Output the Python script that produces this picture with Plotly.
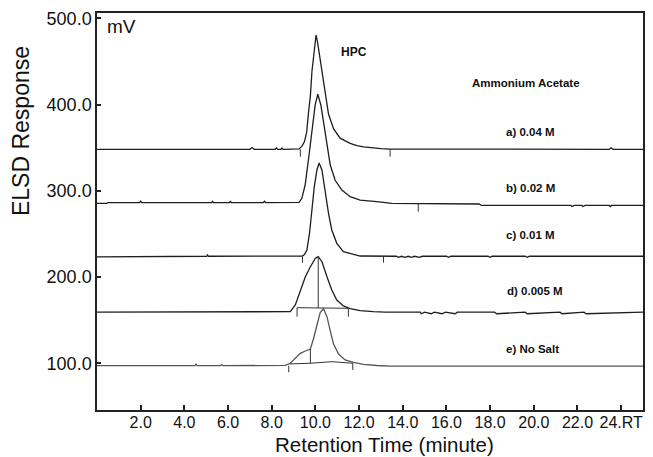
import plotly.graph_objects as go

# retention time (min) / ELSD response (mV), offset chromatograms
TIME_A = [0, 7.0, 7.1, 7.2, 8.15, 8.21, 8.27, 8.42, 8.47, 8.52, 9.25, 9.38, 9.50, 9.60, 9.69,
          9.77, 9.84, 9.91, 9.96, 10.03, 10.10, 10.20, 10.30, 10.45, 10.60, 10.83, 11.13,
          11.59, 11.90, 12.20, 12.65, 13.0, 13.42, 23.45, 23.54, 23.63, 25]
MV_A = [348.1, 348.1, 350.2, 348.1, 348.1, 349.6, 348.1, 348.1, 349.6, 348.1, 348.5, 351.5,
        357.0, 368.0, 392.0, 410.0, 438.0, 456.0, 470.0, 480.6, 472.0, 455.0, 435.0, 411.0,
        389.0, 372.0, 361.0, 355.0, 352.3, 351.0, 349.5, 348.8, 348.3, 348.1, 349.8, 348.1, 348.1]

TIME_B = [0, 0.45, 0.5, 1.95, 2.0, 2.05, 5.25, 5.29, 5.33, 6.07, 6.11, 6.15, 7.62, 7.67, 7.72,
          9.25, 9.38, 9.53, 9.69, 9.84, 9.99, 10.11, 10.25, 10.37, 10.53, 10.68, 10.90, 11.21,
          11.59, 12.05, 12.81, 13.5, 17.5, 17.6, 21.7, 21.75, 21.85, 22.2, 22.25, 22.35, 23.45,
          23.5, 23.55, 25]
MV_B = [285.5, 285.5, 286.4, 286.4, 288.0, 286.4, 286.4, 287.8, 286.4, 286.4, 287.6, 286.4,
        286.4, 287.8, 286.4, 286.6, 291.3, 306.7, 337.7, 372.4, 399.5, 411.9, 399.5, 380.1,
        353.1, 329.9, 312.5, 300.9, 293.2, 289.3, 287.4, 285.5, 284.7, 283.0, 283.0, 281.8,
        283.0, 283.0, 281.8, 283.0, 283.0, 281.8, 283.0, 283.0]

TIME_C = [0, 1.75, 1.8, 5.02, 5.06, 5.10, 9.40, 9.50, 9.61, 9.73, 9.84, 9.95, 10.07, 10.17,
          10.30, 10.45, 10.60, 10.75, 10.98, 11.28, 11.74, 12.05, 13.7, 13.8, 13.95, 14.1,
          14.25, 14.4, 14.55, 14.75, 14.9, 16.0, 16.1, 16.2, 17.9, 18.0, 18.1, 19.6, 19.7,
          19.8, 25]
MV_C = [223.3, 223.3, 224.1, 224.1, 225.6, 224.1, 224.3, 226.0, 231.4, 250.7, 277.7, 304.8,
        324.1, 332.2, 324.1, 297.1, 273.9, 254.6, 239.1, 229.4, 225.9, 224.4, 224.1, 222.9,
        224.1, 222.9, 224.1, 222.9, 224.1, 222.9, 224.1, 224.1, 222.9, 224.1, 224.1, 222.9,
        224.1, 224.1, 222.9, 224.1, 224.1]

TIME_D = [0, 8.7, 8.85, 9.08, 9.31, 9.54, 9.77, 10.00, 10.13, 10.30, 10.53, 10.75, 10.98,
          11.28, 11.59, 12.05, 12.65, 13.2, 14.8, 14.85, 15.0, 15.3, 15.45, 15.8, 15.95, 16.4,
          16.5, 18.2, 18.3, 19.6, 19.7, 21.2, 21.3, 22.3, 22.4, 25]
MV_D = [159.3, 159.3, 159.9, 167.6, 185.0, 200.4, 212.0, 221.8, 223.6, 217.8, 200.4, 185.0,
        173.4, 166.5, 163.3, 161.0, 159.9, 159.3, 159.3, 157.5, 159.3, 157.5, 159.3, 157.5,
        159.3, 157.5, 159.3, 159.3, 157.5, 159.3, 157.5, 159.3, 157.5, 159.3, 157.5, 159.3]

TIME_E = [0, 4.48, 4.53, 4.58, 5.66, 5.71, 5.76, 8.55, 8.62, 8.85, 9.08, 9.31, 9.54, 9.77,
          9.91, 10.07, 10.22, 10.37, 10.53, 10.68, 10.83, 11.06, 11.36, 11.74, 12.20, 12.81,
          13.4, 25]
MV_E = [97.3, 97.3, 99.0, 97.3, 97.3, 98.5, 97.3, 97.3, 97.6, 100.1, 105.8, 111.6, 114.3,
        116.6, 128.2, 145.6, 158.9, 163.3, 154.1, 137.5, 122.4, 110.8, 103.9, 101.0, 98.9,
        97.5, 96.8, 96.8]

# integration marks: start/end ticks, drop lines and peak baselines
MARK_T = [9.31, 9.31, None, 13.42, 13.42, None,
          14.71, 14.71, None,
          9.41, 9.41, None, 13.12, 13.12, None,
          9.16, 9.16, 11.51, 11.51, None, 10.13, 10.13, None,
          8.78, 8.78, None, 8.82, 9.77, 10.75, 11.71, 11.71, None, 9.77, 9.77]
MARK_V = [348.1, 339.5, None, 348.1, 339.5, None,
          285.5, 275.8, None,
          224.1, 216.7, None, 224.1, 216.7, None,
          154.1, 164.5, 163.8, 154.1, None, 223.6, 164.2, None,
          97.3, 89.6, None, 99.3, 100.1, 101.9, 100.1, 92.3, None, 116.6, 100.1]

X_TICKS = [2, 4, 6, 8, 10, 12, 14, 16, 18, 20, 22, 24]
X_LABELS = ["2.0", "4.0", "6.0", "8.0", "10.0", "12.0", "14.0", "16.0", "18.0", "20.0",
            "22.0", "24.RT"]
Y_TICKS = [100, 200, 300, 400, 500]
Y_LABELS = ["100.0", "200.0", "300.0", "400.0", "500.0"]

TRACE_LABELS = ["a) 0.04 M", "b) 0.02 M", "c) 0.01 M", "d) 0.005 M", "e) No Salt"]
LABEL_T = [19.84, 19.85, 19.84, 20.04, 19.96]
LABEL_V = [368.2, 303.2, 248.7, 183.8, 116.3]

FONT = "Liberation Sans, Arial, sans-serif"
INK = "#1e1e1e"

fig = go.Figure()
for t, v, c in [(TIME_A, MV_A, INK), (TIME_B, MV_B, INK), (TIME_C, MV_C, INK),
                (TIME_D, MV_D, INK), (TIME_E, MV_E, "#555555")]:
    fig.add_trace(go.Scatter(x=t, y=v, mode="lines", line=dict(color=c, width=1.3),
                             hoverinfo="skip"))
fig.add_trace(go.Scatter(x=MARK_T, y=MARK_V, mode="lines", connectgaps=False,
                         line=dict(color="#333333", width=1), hoverinfo="skip"))

ann = [dict(x=0.36, y=490.2, text="mV", xanchor="left", font=dict(size=19)),
       dict(x=11.77, y=460.5, text="<b>HPC</b>", font=dict(size=12)),
       dict(x=19.66, y=424.9, text="<b>Ammonium Acetate</b>", font=dict(size=11.5))]
for lab, t, v in zip(TRACE_LABELS, LABEL_T, LABEL_V):
    ann.append(dict(x=t, y=v, text=f"<b>{lab}</b>", font=dict(size=11.5)))
for a in ann:
    a.update(xref="x", yref="y", showarrow=False, yanchor="middle")
    a.setdefault("xanchor", "center")

ann.append(dict(xref="paper", yref="paper", x=0.527, y=-0.1184, text="Retention Time (minute)",
                showarrow=False, xanchor="center", yanchor="bottom", borderpad=0,
                font=dict(size=20.5)))
ann.append(dict(xref="paper", yref="paper", x=-0.139, y=0.703, text="ELSD Response",
                textangle=-90, showarrow=False, xanchor="center", yanchor="middle",
                font=dict(size=23)))

fig.update_layout(
    width=653, height=457,
    margin=dict(l=97, r=10, t=13, b=47),
    paper_bgcolor="white", plot_bgcolor="white",
    showlegend=False,
    font=dict(family=FONT, color="#111111"),
    annotations=ann,
)
fig.update_xaxes(range=[0, 25], tickmode="array", tickvals=X_TICKS, ticktext=X_LABELS,
                 tickangle=0, ticks="inside", ticklen=5, tickcolor="#222", tickwidth=1.5,
                 showgrid=False, zeroline=False,
                 showline=True, linecolor="#222", linewidth=1.5, mirror=True,
                 tickfont=dict(size=16), ticklabelstandoff=-3, automargin=False)
fig.update_yaxes(range=[45.9, 506.1], tickmode="array", tickvals=Y_TICKS, ticktext=Y_LABELS,
                 ticks="inside", ticklen=4, tickcolor="#222", tickwidth=1.5,
                 showgrid=False, zeroline=False,
                 showline=True, linecolor="#222", linewidth=1.5, mirror=True,
                 tickfont=dict(size=18), automargin=False)

# the page's default body margin would push the figure 8px right and down
fig.write_html("out.html", config={"displayModeBar": False},
               post_script="document.body.style.margin='0px';")
